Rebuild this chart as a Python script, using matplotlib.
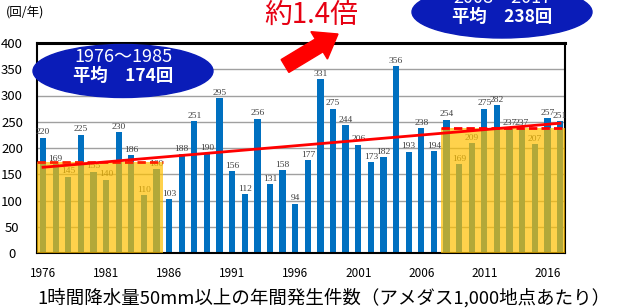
import numpy as np
import matplotlib.pyplot as plt
from matplotlib.patches import Ellipse, FancyArrow

plt.rcParams['font.family'] = ['Noto Sans CJK JP', 'DejaVu Sans']

# 年ごとの発生回数（アメダス1,000地点あたり）
years = list(range(1976, 2018))
counts = [220, 169, 145, 225, 155, 140, 230, 186, 110, 160,
          103, 188, 251, 190, 295, 156, 112, 256, 131, 158,
          94, 177, 331, 275, 244, 206, 173, 182, 356, 193,
          238, 194, 254, 169, 209, 275, 282, 237, 237, 207,
          257, 251]
xtick_years = [1976, 1981, 1986, 1991, 1996, 2001, 2006, 2011, 2016]
period1 = (1976, 1985)
period2 = (2008, 2017)

years_arr = np.array(years)
counts_arr = np.array(counts)
mean1 = counts_arr[(years_arr >= period1[0]) & (years_arr <= period1[1])].mean()
mean2 = counts_arr[(years_arr >= period2[0]) & (years_arr <= period2[1])].mean()

fig = plt.figure(figsize=(6.18, 3.08), dpi=100)
ax = fig.add_axes([37/618, 1 - 253/308, 528/618, 210/308])

xmin, xmax = 1975.52, 2017.4
ax.set_xlim(xmin, xmax)
ax.set_ylim(0, 400)

# 棒グラフ
bars = ax.bar(years, counts, width=0.5, color="#0070C0", zorder=2)
ax.bar_label(bars, labels=[str(c) for c in counts], padding=1, fontsize=6.8,
             family="Liberation Serif", color="#404040", zorder=3)

# 期間の黄色い網掛け
ax.fill_between([xmin, period1[1] + 0.5], 0, mean1, color="#FFC000", alpha=0.7, lw=0, zorder=4)
ax.fill_between([period2[0] - 0.4, xmax], 0, mean2, color="#FFC000", alpha=0.7, lw=0, zorder=4)
ax.plot([xmin, period1[1] + 0.5], [mean1, mean1], color="#FF2000", lw=2, ls=(0, (3, 1.5)), zorder=5)
ax.plot([period2[0] - 0.4, xmax], [mean2, mean2], color="#FF0000", lw=2, ls=(0, (3, 1.5)), zorder=5)

# トレンド線
coef = np.polyfit(years_arr, counts_arr, 1)
tx = np.array([1976, 2017])
ax.plot(tx, np.polyval(coef, tx), color="#FF0000", lw=2, zorder=6)

# 軸の体裁
ax.set_yticks(range(0, 401, 50))
ax.set_xticks(xtick_years)
ax.grid(axis="y", color="#A0A0A0", lw=1, zorder=0)
ax.tick_params(axis="both", length=0, labelsize=9.5)
ax.tick_params(axis="x", pad=10, labelsize=8.5)
ax.tick_params(axis="y", pad=18)
for lab in ax.get_yticklabels():
    lab.set_horizontalalignment("center")
for s in ax.spines.values():
    s.set_color("black")
    s.set_linewidth(1.5)
ax.spines["top"].set_linewidth(2.2)

T = fig.dpi_scale_trans
H = 3.08

def px(x, y):
    return x / 100, H - y / 100

# 単位
fig.text(*px(6, 13), "(回/年)", fontsize=9, va="center", ha="left", transform=T)

# 楕円の吹き出し
fig.add_artist(Ellipse(px(123, 71), 1.80, 0.53, color="#0A1CB8", transform=T, zorder=10))
fig.text(*px(123, 57), "1976～1985", fontsize=13, color="white", ha="center", va="center",
         transform=T, zorder=11)
fig.text(*px(123, 76), "平均　174回", fontsize=12.5, color="white", weight="bold",
         ha="center", va="center", transform=T, zorder=11)

fig.add_artist(Ellipse(px(502, 12), 1.80, 0.52, color="#0A1CB8", transform=T, zorder=10))
fig.text(*px(502, -2), "2008～2017", fontsize=13, color="white", ha="center", va="center",
         transform=T, zorder=11)
fig.text(*px(502, 17), "平均　238回", fontsize=12.5, color="white", weight="bold",
         ha="center", va="center", transform=T, zorder=11)

# 赤矢印と倍率
x0, y0 = px(285, 66)
x1, y1 = px(338, 34)
fig.add_artist(FancyArrow(x0, y0, x1 - x0, y1 - y0, width=0.15, head_width=0.32,
                          head_length=0.22, length_includes_head=True, color="#FF0000",
                          transform=T, zorder=12))
fig.text(*px(311, 15), "約1.4倍", fontsize=20, color="#E60012", ha="center", va="center",
         transform=T)

# 下のキャプション
fig.text(*px(324, 298), "1時間降水量50mm以上の年間発生件数（アメダス1,000地点あたり）",
         fontsize=13.3, ha="center", va="center", transform=T)

fig.savefig("out.png", dpi=100)
